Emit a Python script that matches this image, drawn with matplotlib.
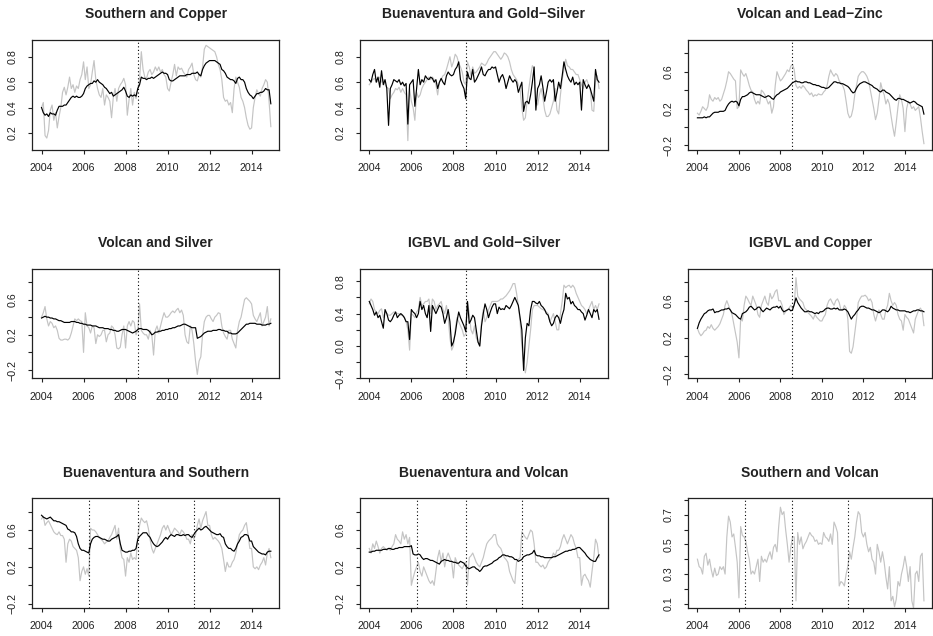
import numpy as np
import matplotlib
matplotlib.use("Agg")
import matplotlib.pyplot as plt

plt.rcParams['font.family'] = ['Liberation Sans', 'DejaVu Sans']

# monthly grid, Jan 2004 .. Dec 2014
t = 2004 + np.arange(132) / 12.0

# --- data (one row per year, Jan..Dec) ---
sc_black = [0.40,0.36,0.34,0.35,0.33,0.36,0.35,0.35,0.34,0.38,0.41,0.41,
            0.41,0.42,0.42,0.44,0.46,0.48,0.49,0.48,0.49,0.48,0.48,0.49,
            0.51,0.55,0.57,0.58,0.59,0.59,0.61,0.60,0.62,0.60,0.59,0.58,
            0.56,0.55,0.53,0.51,0.52,0.49,0.50,0.51,0.52,0.53,0.54,0.56,
            0.53,0.49,0.48,0.50,0.49,0.50,0.49,0.55,0.58,0.64,0.63,0.63,
            0.62,0.63,0.63,0.64,0.63,0.64,0.65,0.66,0.67,0.68,0.67,0.67,
            0.66,0.62,0.61,0.61,0.62,0.63,0.64,0.65,0.65,0.65,0.65,0.66,
            0.66,0.66,0.67,0.67,0.67,0.68,0.66,0.65,0.70,0.73,0.75,0.76,
            0.77,0.77,0.77,0.77,0.76,0.75,0.74,0.70,0.69,0.67,0.64,0.63,
            0.62,0.62,0.61,0.59,0.63,0.64,0.62,0.62,0.60,0.55,0.52,0.50,
            0.49,0.47,0.49,0.51,0.51,0.52,0.52,0.53,0.55,0.54,0.54,0.43]
sc_gray = [0.40,0.44,0.18,0.16,0.22,0.38,0.42,0.30,0.36,0.24,0.33,0.40,
           0.52,0.56,0.50,0.56,0.64,0.55,0.58,0.52,0.57,0.55,0.62,0.66,
           0.76,0.62,0.72,0.55,0.58,0.68,0.77,0.62,0.55,0.50,0.48,0.55,
           0.42,0.50,0.48,0.45,0.32,0.48,0.55,0.45,0.55,0.58,0.60,0.63,
           0.58,0.34,0.46,0.55,0.42,0.52,0.47,0.55,0.62,0.84,0.70,0.64,
           0.63,0.68,0.70,0.66,0.68,0.72,0.69,0.72,0.68,0.70,0.66,0.64,
           0.55,0.53,0.60,0.66,0.74,0.65,0.72,0.70,0.71,0.68,0.66,0.64,
           0.70,0.72,0.75,0.66,0.62,0.61,0.66,0.64,0.72,0.86,0.89,0.88,
           0.87,0.86,0.85,0.84,0.80,0.74,0.70,0.62,0.48,0.45,0.46,0.42,
           0.44,0.36,0.55,0.64,0.60,0.56,0.48,0.45,0.40,0.32,0.26,0.23,
           0.24,0.40,0.48,0.54,0.51,0.49,0.55,0.58,0.62,0.60,0.45,0.25]

bg_black = [0.62,0.60,0.66,0.70,0.60,0.64,0.56,0.69,0.58,0.62,0.55,0.26,
            0.55,0.58,0.62,0.61,0.60,0.62,0.58,0.60,0.57,0.59,0.27,0.58,
            0.60,0.62,0.41,0.55,0.70,0.58,0.62,0.60,0.65,0.63,0.62,0.64,
            0.63,0.60,0.62,0.55,0.60,0.63,0.60,0.58,0.65,0.68,0.66,0.65,
            0.66,0.70,0.72,0.76,0.62,0.58,0.55,0.47,0.68,0.63,0.62,0.70,
            0.60,0.62,0.65,0.68,0.72,0.66,0.65,0.68,0.70,0.70,0.72,0.71,
            0.72,0.66,0.60,0.64,0.66,0.62,0.55,0.60,0.65,0.62,0.60,0.62,
            0.60,0.52,0.56,0.60,0.37,0.44,0.45,0.43,0.50,0.60,0.72,0.38,
            0.55,0.58,0.65,0.56,0.45,0.52,0.60,0.62,0.60,0.62,0.45,0.52,
            0.60,0.55,0.65,0.76,0.70,0.65,0.62,0.60,0.64,0.58,0.60,0.58,
            0.60,0.38,0.62,0.58,0.55,0.58,0.55,0.50,0.45,0.70,0.62,0.60]
bg_gray = [0.58,0.60,0.62,0.63,0.60,0.61,0.64,0.60,0.62,0.58,0.56,0.55,
           0.47,0.50,0.52,0.55,0.54,0.56,0.52,0.55,0.52,0.50,0.14,0.55,
           0.45,0.40,0.30,0.52,0.48,0.50,0.55,0.58,0.60,0.62,0.64,0.62,
           0.64,0.62,0.58,0.50,0.60,0.62,0.65,0.66,0.70,0.75,0.80,0.72,
           0.76,0.82,0.80,0.75,0.72,0.68,0.60,0.58,0.76,0.72,0.65,0.72,
           0.67,0.68,0.70,0.72,0.75,0.74,0.73,0.75,0.78,0.80,0.82,0.84,
           0.84,0.82,0.80,0.78,0.80,0.83,0.82,0.80,0.76,0.70,0.66,0.64,
           0.62,0.58,0.55,0.40,0.30,0.32,0.45,0.55,0.65,0.73,0.70,0.45,
           0.42,0.50,0.55,0.48,0.38,0.33,0.33,0.35,0.40,0.45,0.55,0.38,
           0.35,0.50,0.62,0.70,0.78,0.73,0.72,0.70,0.70,0.68,0.66,0.66,
           0.62,0.58,0.55,0.60,0.62,0.58,0.55,0.38,0.37,0.60,0.65,0.55]

vlz_black = [0.10,0.10,0.10,0.10,0.11,0.10,0.11,0.11,0.13,0.15,0.16,0.16,
             0.16,0.17,0.17,0.17,0.18,0.22,0.25,0.27,0.28,0.27,0.28,0.27,
             0.23,0.30,0.33,0.33,0.34,0.35,0.37,0.38,0.37,0.36,0.35,0.35,
             0.35,0.34,0.33,0.32,0.33,0.34,0.33,0.31,0.30,0.33,0.35,0.36,
             0.38,0.39,0.40,0.41,0.42,0.44,0.46,0.48,0.49,0.50,0.49,0.49,
             0.48,0.48,0.49,0.49,0.48,0.48,0.47,0.46,0.46,0.45,0.45,0.44,
             0.43,0.43,0.42,0.42,0.43,0.45,0.47,0.49,0.49,0.48,0.48,0.47,
             0.47,0.46,0.45,0.44,0.42,0.39,0.37,0.38,0.42,0.45,0.47,0.48,
             0.49,0.49,0.48,0.47,0.46,0.45,0.43,0.42,0.41,0.39,0.38,0.40,
             0.40,0.38,0.37,0.36,0.34,0.32,0.30,0.29,0.31,0.31,0.30,0.30,
             0.29,0.28,0.27,0.26,0.27,0.28,0.27,0.25,0.24,0.23,0.22,0.14]
vlz_gray = [0.15,0.13,0.17,0.22,0.20,0.18,0.22,0.35,0.30,0.28,0.32,0.30,
            0.32,0.28,0.30,0.36,0.42,0.50,0.60,0.58,0.55,0.52,0.50,0.20,
            0.22,0.62,0.58,0.55,0.58,0.52,0.45,0.40,0.38,0.30,0.25,0.28,
            0.25,0.40,0.38,0.35,0.30,0.25,0.28,0.15,0.22,0.45,0.60,0.55,
            0.50,0.52,0.55,0.58,0.62,0.60,0.66,0.68,0.62,0.45,0.42,0.44,
            0.42,0.45,0.43,0.40,0.38,0.35,0.37,0.33,0.35,0.34,0.36,0.35,
            0.35,0.38,0.40,0.45,0.55,0.62,0.58,0.55,0.58,0.56,0.50,0.48,
            0.45,0.40,0.28,0.15,0.10,0.12,0.20,0.35,0.45,0.55,0.58,0.60,
            0.60,0.58,0.55,0.50,0.40,0.30,0.20,0.08,0.15,0.30,0.48,0.40,
            0.35,0.25,0.30,0.25,0.12,0.00,-0.10,0.05,0.22,0.35,0.30,0.20,
            -0.05,0.20,0.28,0.25,0.20,0.22,0.18,0.20,0.22,0.10,-0.05,-0.18]

vs_black = [0.39,0.40,0.41,0.40,0.40,0.39,0.39,0.38,0.38,0.37,0.36,0.36,
            0.35,0.34,0.34,0.34,0.34,0.35,0.35,0.35,0.34,0.34,0.33,0.33,
            0.32,0.32,0.31,0.31,0.31,0.30,0.30,0.30,0.29,0.28,0.28,0.28,
            0.27,0.27,0.27,0.26,0.26,0.25,0.25,0.24,0.24,0.25,0.26,0.26,
            0.26,0.25,0.24,0.23,0.22,0.23,0.24,0.26,0.27,0.27,0.26,0.26,
            0.26,0.25,0.23,0.20,0.21,0.23,0.23,0.24,0.24,0.25,0.25,0.26,
            0.26,0.27,0.27,0.28,0.28,0.29,0.30,0.30,0.31,0.32,0.32,0.31,
            0.30,0.29,0.28,0.28,0.28,0.16,0.17,0.18,0.20,0.22,0.23,0.24,
            0.24,0.24,0.25,0.25,0.25,0.26,0.26,0.25,0.25,0.24,0.24,0.22,
            0.22,0.21,0.21,0.21,0.22,0.24,0.26,0.28,0.30,0.32,0.32,0.33,
            0.33,0.33,0.33,0.32,0.32,0.32,0.31,0.31,0.31,0.32,0.32,0.33]
vs_gray = [0.40,0.45,0.52,0.38,0.30,0.35,0.33,0.28,0.30,0.25,0.16,0.14,
           0.14,0.15,0.15,0.14,0.16,0.22,0.30,0.38,0.36,0.38,0.36,0.35,
           0.00,0.45,0.30,0.28,0.22,0.30,0.28,0.10,0.20,0.18,0.20,0.25,
           0.25,0.12,0.20,0.22,0.30,0.28,0.20,0.05,0.04,0.06,0.20,0.30,
           0.05,0.30,0.35,0.30,0.36,0.34,0.20,0.25,0.55,0.25,0.22,0.20,
           0.20,0.15,0.25,0.20,-0.03,0.25,0.30,0.22,0.30,0.38,0.45,0.40,
           0.40,0.42,0.45,0.47,0.45,0.48,0.50,0.45,0.48,0.42,0.20,0.12,
           0.10,0.30,0.25,0.10,-0.10,-0.25,-0.10,-0.05,0.20,0.35,0.40,0.42,
           0.42,0.38,0.35,0.40,0.42,0.45,0.44,0.30,0.22,0.18,0.15,0.25,
           0.25,0.15,0.10,0.05,0.25,0.35,0.40,0.50,0.60,0.62,0.60,0.58,
           0.55,0.42,0.38,0.35,0.40,0.45,0.30,0.35,0.40,0.52,0.30,0.38]

ig_black = [0.55,0.50,0.45,0.38,0.42,0.35,0.38,0.30,0.22,0.45,0.40,0.32,
            0.30,0.33,0.38,0.42,0.35,0.38,0.40,0.38,0.35,0.30,0.30,0.08,
            0.45,0.42,0.40,0.35,0.40,0.55,0.45,0.50,0.40,0.35,0.50,0.18,
            0.50,0.45,0.40,0.45,0.50,0.48,0.40,0.28,0.35,0.45,0.30,0.00,
            0.05,0.15,0.30,0.42,0.35,0.30,0.25,0.18,0.55,0.28,0.32,0.38,
            0.35,0.20,0.05,0.00,0.25,0.40,0.52,0.45,0.35,0.42,0.48,0.52,
            0.52,0.40,0.48,0.45,0.46,0.45,0.50,0.48,0.46,0.50,0.55,0.60,
            0.55,0.50,0.35,0.20,-0.30,0.10,0.28,0.25,0.45,0.55,0.55,0.53,
            0.52,0.55,0.50,0.48,0.45,0.40,0.38,0.30,0.25,0.28,0.35,0.38,
            0.35,0.28,0.38,0.45,0.65,0.58,0.60,0.52,0.55,0.50,0.48,0.45,
            0.45,0.42,0.40,0.32,0.38,0.45,0.40,0.35,0.45,0.42,0.45,0.33]
ig_gray = [0.52,0.58,0.55,0.45,0.42,0.40,0.44,0.46,0.35,0.42,0.40,0.38,
           0.38,0.40,0.42,0.42,0.40,0.40,0.38,0.38,0.36,0.30,0.20,-0.05,
           0.40,0.38,0.35,0.42,0.45,0.60,0.50,0.52,0.55,0.55,0.58,0.40,
           0.58,0.55,0.45,0.50,0.52,0.55,0.45,0.40,0.50,0.35,0.10,-0.05,
           0.00,0.20,0.35,0.30,0.25,0.20,0.12,0.15,0.55,0.40,0.20,0.15,
           0.25,0.10,0.05,0.00,0.30,0.45,0.30,0.35,0.45,0.50,0.55,0.55,
           0.55,0.55,0.56,0.58,0.58,0.60,0.62,0.65,0.68,0.72,0.77,0.77,
           0.65,0.50,0.30,0.00,-0.20,-0.33,-0.20,0.00,0.20,0.45,0.50,0.50,
           0.50,0.48,0.46,0.45,0.44,0.42,0.40,0.30,0.35,0.40,0.30,0.20,
           0.20,0.40,0.55,0.75,0.72,0.74,0.75,0.72,0.75,0.72,0.65,0.60,
           0.55,0.50,0.48,0.45,0.40,0.45,0.50,0.55,0.45,0.50,0.45,0.52]

ic_black = [0.30,0.36,0.40,0.43,0.46,0.47,0.49,0.50,0.50,0.51,0.47,0.48,
            0.48,0.49,0.50,0.50,0.51,0.51,0.52,0.50,0.47,0.46,0.45,0.43,
            0.41,0.40,0.46,0.47,0.48,0.50,0.53,0.54,0.52,0.50,0.51,0.53,
            0.53,0.50,0.48,0.50,0.52,0.51,0.50,0.52,0.53,0.53,0.54,0.52,
            0.54,0.50,0.48,0.49,0.50,0.51,0.49,0.50,0.56,0.63,0.58,0.55,
            0.52,0.50,0.48,0.48,0.49,0.48,0.48,0.47,0.46,0.47,0.46,0.48,
            0.48,0.49,0.51,0.52,0.52,0.51,0.51,0.52,0.51,0.52,0.50,0.50,
            0.50,0.51,0.50,0.48,0.44,0.40,0.43,0.45,0.48,0.50,0.53,0.54,
            0.54,0.53,0.52,0.52,0.51,0.50,0.50,0.49,0.48,0.47,0.48,0.50,
            0.50,0.49,0.48,0.50,0.54,0.52,0.51,0.50,0.50,0.49,0.49,0.49,
            0.49,0.48,0.48,0.47,0.48,0.49,0.49,0.50,0.50,0.49,0.49,0.48]
ic_gray = [0.30,0.25,0.22,0.24,0.27,0.28,0.32,0.30,0.34,0.30,0.28,0.30,
           0.32,0.35,0.40,0.45,0.55,0.60,0.55,0.50,0.45,0.35,0.25,0.15,
           -0.02,0.40,0.38,0.55,0.65,0.62,0.58,0.55,0.65,0.60,0.55,0.45,
           0.42,0.55,0.60,0.65,0.58,0.55,0.68,0.62,0.65,0.70,0.72,0.60,
           0.60,0.55,0.45,0.48,0.50,0.52,0.55,0.52,0.55,0.85,0.65,0.62,
           0.60,0.58,0.52,0.50,0.47,0.45,0.43,0.40,0.45,0.42,0.40,0.38,
           0.38,0.42,0.45,0.55,0.60,0.62,0.58,0.55,0.60,0.62,0.58,0.50,
           0.50,0.55,0.52,0.40,0.05,0.03,0.10,0.25,0.40,0.58,0.62,0.65,
           0.65,0.66,0.64,0.60,0.62,0.58,0.45,0.38,0.45,0.50,0.45,0.40,
           0.40,0.50,0.55,0.68,0.60,0.55,0.58,0.55,0.45,0.40,0.38,0.28,
           0.45,0.42,0.40,0.35,0.30,0.25,0.40,0.45,0.50,0.52,0.48,0.33]

bs_black = [0.76,0.74,0.73,0.72,0.73,0.74,0.72,0.70,0.70,0.69,0.69,0.68,
            0.67,0.66,0.65,0.61,0.60,0.58,0.58,0.57,0.53,0.45,0.40,0.38,
            0.38,0.37,0.36,0.35,0.45,0.50,0.52,0.53,0.53,0.52,0.51,0.50,
            0.50,0.49,0.48,0.48,0.50,0.51,0.52,0.53,0.55,0.45,0.38,0.37,
            0.36,0.36,0.37,0.37,0.38,0.38,0.40,0.50,0.53,0.55,0.57,0.57,
            0.57,0.54,0.52,0.48,0.45,0.43,0.42,0.43,0.45,0.47,0.50,0.52,
            0.50,0.53,0.55,0.54,0.53,0.55,0.55,0.54,0.54,0.55,0.54,0.55,
            0.55,0.53,0.52,0.55,0.58,0.60,0.62,0.60,0.61,0.63,0.64,0.62,
            0.60,0.58,0.57,0.56,0.55,0.55,0.56,0.53,0.52,0.45,0.42,0.40,
            0.40,0.38,0.37,0.40,0.45,0.48,0.52,0.53,0.55,0.55,0.54,0.48,
            0.48,0.42,0.40,0.38,0.36,0.35,0.34,0.34,0.33,0.36,0.37,0.37]
bs_gray = [0.72,0.75,0.65,0.68,0.70,0.66,0.62,0.58,0.56,0.55,0.58,0.54,
           0.54,0.50,0.25,0.45,0.50,0.48,0.42,0.40,0.38,0.30,0.05,0.15,
           0.20,0.12,0.18,0.10,0.62,0.60,0.60,0.58,0.55,0.52,0.50,0.48,
           0.45,0.47,0.48,0.52,0.55,0.60,0.65,0.50,0.62,0.40,0.30,0.28,
           0.10,0.30,0.25,0.35,0.28,0.30,0.28,0.55,0.65,0.73,0.70,0.68,
           0.70,0.62,0.50,0.40,0.35,0.40,0.45,0.50,0.55,0.62,0.65,0.60,
           0.65,0.60,0.55,0.58,0.62,0.60,0.58,0.55,0.60,0.58,0.55,0.50,
           0.50,0.45,0.55,0.50,0.55,0.65,0.72,0.62,0.70,0.75,0.80,0.65,
           0.65,0.55,0.50,0.52,0.50,0.48,0.45,0.40,0.28,0.15,0.25,0.20,
           0.20,0.25,0.28,0.35,0.45,0.55,0.58,0.60,0.65,0.68,0.55,0.40,
           0.40,0.20,0.18,0.20,0.17,0.22,0.25,0.30,0.22,0.35,0.40,0.30]

bv_black = [0.36,0.36,0.37,0.37,0.38,0.38,0.38,0.38,0.39,0.39,0.39,0.40,
            0.40,0.39,0.39,0.40,0.40,0.41,0.41,0.41,0.42,0.42,0.42,0.42,
            0.43,0.34,0.33,0.33,0.34,0.33,0.30,0.28,0.29,0.29,0.28,0.27,
            0.27,0.26,0.25,0.24,0.23,0.26,0.27,0.28,0.27,0.27,0.26,0.26,
            0.25,0.25,0.24,0.24,0.26,0.25,0.24,0.21,0.19,0.18,0.19,0.20,
            0.20,0.18,0.17,0.15,0.17,0.20,0.21,0.21,0.22,0.23,0.24,0.26,
            0.27,0.28,0.30,0.31,0.33,0.33,0.32,0.32,0.31,0.31,0.30,0.28,
            0.28,0.26,0.27,0.28,0.31,0.32,0.33,0.33,0.34,0.35,0.38,0.33,
            0.32,0.32,0.31,0.31,0.30,0.30,0.30,0.30,0.30,0.31,0.31,0.32,
            0.33,0.34,0.35,0.36,0.37,0.37,0.38,0.38,0.39,0.39,0.40,0.41,
            0.41,0.39,0.37,0.35,0.32,0.30,0.28,0.27,0.26,0.26,0.30,0.33]
bv_gray = [0.40,0.35,0.45,0.40,0.48,0.42,0.35,0.40,0.42,0.40,0.38,0.40,
           0.38,0.42,0.45,0.55,0.50,0.48,0.45,0.58,0.50,0.55,0.45,0.52,
           0.00,0.08,0.15,0.20,0.25,0.15,0.10,0.20,0.15,0.10,0.05,0.02,
           0.05,0.00,0.15,0.30,0.38,0.25,0.35,0.20,0.30,0.35,0.30,0.25,
           0.08,0.30,0.25,0.22,0.20,0.18,0.22,0.25,0.00,0.30,0.32,0.35,
           0.30,0.25,0.22,0.20,0.25,0.30,0.38,0.45,0.48,0.50,0.52,0.55,
           0.55,0.45,0.42,0.40,0.35,0.30,0.28,0.25,0.15,0.10,0.05,0.02,
           0.25,0.28,0.30,0.58,0.55,0.52,0.50,0.55,0.60,0.58,0.45,0.25,
           0.25,0.22,0.20,0.22,0.18,0.20,0.25,0.28,0.30,0.35,0.32,0.38,
           0.38,0.42,0.50,0.55,0.50,0.45,0.50,0.55,0.52,0.45,0.40,0.30,
           0.30,0.00,0.10,0.12,0.08,0.05,-0.02,0.15,0.30,0.50,0.45,0.30]

sv_gray = [0.40,0.35,0.34,0.30,0.42,0.44,0.36,0.40,0.33,0.28,0.34,0.29,
           0.30,0.35,0.33,0.35,0.30,0.55,0.69,0.65,0.55,0.57,0.48,0.38,
           0.14,0.62,0.56,0.55,0.52,0.45,0.40,0.30,0.32,0.30,0.35,0.40,
           0.25,0.42,0.38,0.40,0.38,0.42,0.45,0.40,0.48,0.50,0.45,0.62,
           0.75,0.70,0.72,0.60,0.50,0.38,0.48,0.55,0.55,0.12,0.58,0.50,
           0.55,0.47,0.50,0.52,0.55,0.58,0.56,0.55,0.52,0.53,0.50,0.51,
           0.50,0.58,0.55,0.54,0.52,0.57,0.50,0.65,0.62,0.58,0.22,0.25,
           0.24,0.22,0.30,0.35,0.45,0.40,0.48,0.55,0.65,0.72,0.70,0.58,
           0.55,0.58,0.50,0.45,0.48,0.40,0.38,0.30,0.50,0.45,0.38,0.45,
           0.38,0.28,0.20,0.35,0.12,0.15,0.08,0.13,0.25,0.22,0.30,0.35,
           0.42,0.35,0.25,0.35,0.12,0.07,0.30,0.32,0.25,0.42,0.44,0.12]

titles = ["Southern and Copper", "Buenaventura and Gold\u2212Silver", "Volcan and Lead\u2212Zinc",
          "Volcan and Silver", "IGBVL and Gold\u2212Silver", "IGBVL and Copper",
          "Buenaventura and Southern", "Buenaventura and Volcan", "Southern and Volcan"]
black_series = [sc_black, bg_black, vlz_black, vs_black, ig_black, ic_black, bs_black, bv_black, None]
gray_series = [sc_gray, bg_gray, vlz_gray, vs_gray, ig_gray, ic_gray, bs_gray, bv_gray, sv_gray]
breaks_one = [2008.58]
breaks_three = [2006.27, 2008.58, 2011.25]
year_ticks = [2004, 2006, 2008, 2010, 2012, 2014]


def mlab(v):
    s = "%.1f" % v
    return s.replace("-", "\u2212")


def yaxis_spec(ticks, labelled):
    labs = [mlab(v) if any(abs(v - l) < 1e-9 for l in labelled) else "" for v in ticks]
    return ticks, labs


a_ticks = [-0.2, 0.0, 0.2, 0.4, 0.6, 0.8]
a_lab = [-0.2, 0.2, 0.6]
specs = [
    ((0.070, 0.932), [0.2, 0.4, 0.6, 0.8], [0.2, 0.4, 0.6, 0.8]),
    ((0.070, 0.932), [0.2, 0.4, 0.6, 0.8], [0.2, 0.4, 0.6, 0.8]),
    ((-0.244, 0.944), a_ticks, a_lab),
    ((-0.296, 0.946), a_ticks, a_lab),
    ((-0.40, 0.95), [-0.4, -0.2, 0.0, 0.2, 0.4, 0.6, 0.8], [-0.4, 0.0, 0.4, 0.8]),
    ((-0.244, 0.944), a_ticks, a_lab),
    ((-0.244, 0.944), a_ticks, a_lab),
    ((-0.244, 0.944), a_ticks, a_lab),
    ((0.073, 0.81), [0.1, 0.2, 0.3, 0.4, 0.5, 0.6, 0.7, 0.8], [0.1, 0.3, 0.5, 0.7]),
]

W, H = 933, 636
fig = plt.figure(figsize=(W / 100, H / 100), dpi=100)

col_left = [32.3, 360.0, 688.3]
col_w = [247.0, 247.5, 244.0]
row_top = [40.0, 269.0, 498.3]
row_h = 109.5

for i in range(9):
    r, c = divmod(i, 3)
    ax = fig.add_axes([col_left[c] / W, 1 - (row_top[r] + row_h) / H, col_w[c] / W, row_h / H])
    g = gray_series[i]
    assert len(g) == len(t), (i, len(g))
    ax.plot(t, g, color="#c4c4c4", lw=0.85)
    b = black_series[i]
    if b is not None:
        assert len(b) == len(t), (i, len(b))
        ax.plot(t, b, color="black", lw=0.85)
    for xb in (breaks_three if r == 2 else breaks_one):
        ax.axvline(xb, color="black", lw=0.8, ls=(0, (1, 2.2)))
    ylim, yt, yl = specs[i]
    ax.set_xlim(2003.56, 2015.32)
    ax.set_ylim(*ylim)
    ticks, labs = yaxis_spec(yt, yl)
    ax.set_yticks(ticks)
    ax.set_yticklabels(labs, rotation=90, va="center")
    ax.set_xticks(year_ticks)
    ax.set_xticklabels([str(y) for y in year_ticks])
    ax.tick_params(axis="both", direction="out", length=3, width=0.8, labelsize=7.7, colors="#222222")
    ax.tick_params(axis="y", pad=7.5)
    ax.tick_params(axis="x", pad=6.5)
    for sp in ax.spines.values():
        sp.set_linewidth(0.9)
        sp.set_color("#222222")
    ax.set_title(titles[i], fontsize=10, fontweight="bold", pad=15.5, color="#222222")

fig.savefig("out.png", dpi=100)
